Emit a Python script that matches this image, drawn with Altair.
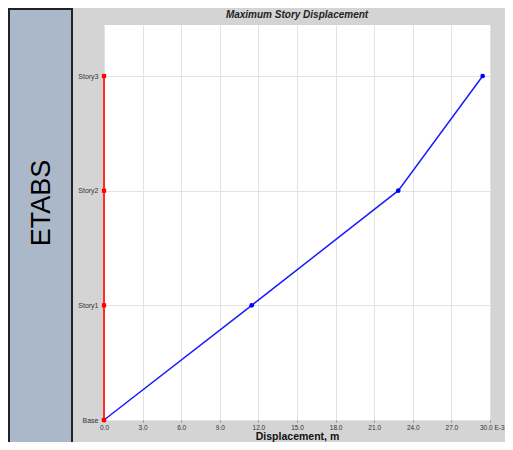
import altair as alt
import pandas as pd

# ---- data ----
stories = ["Base", "Story1", "Story2", "Story3"]
levels = [0, 1, 2, 3]
disp_blue = [0.0, 11.48, 22.87, 29.43]   # displacement, E-3 m
disp_red = [0.0, 0.0, 0.0, 0.0]
x_ticks = [0, 3, 6, 9, 12, 15, 18, 21, 24, 27, 30]
chart_title = "Maximum Story Displacement"
side_label = "ETABS"

df = pd.DataFrame({"story": stories, "level": levels,
                   "blue": disp_blue, "red": disp_red})
side = pd.DataFrame({"t": [side_label]})
head = pd.DataFrame({"t": [chart_title]})

FONT = "Liberation Sans"
y_label_expr = "[" + ",".join("'%s'" % s for s in stories) + "][datum.value]"

W, H = 386, 395
xscale = alt.Scale(domain=[0, 30], nice=False, zero=False)
yscale = alt.Scale(domain=[0, 3.445], nice=False, zero=False)

xaxis = alt.Axis(
    values=x_ticks, tickCount=len(x_ticks),
    labelExpr="datum.value == 30 ? '30.0 E-3' : format(datum.value, '.1f')",
    labelAlign={"condition": {"test": "datum.value == 30", "value": "right"}, "value": "center"},
    labelOffset={"condition": {"test": "datum.value == 30", "value": 14}, "value": 0},
    title="Displacement, m", titleFont=FONT, titleFontSize=10.5, titleFontWeight="bold",
    titleColor="#111", titleY=19.5, titleBaseline="alphabetic",
    grid=True, gridColor="#e3e3e3", domain=False,
    tickSize=2, tickColor="#888", labelFont=FONT, labelFontSize=6.5,
    labelColor="#333", labelPadding=2, labelFlush=False, labelOverlap=False,
)
yaxis = alt.Axis(
    values=levels, tickCount=len(levels), labelExpr=y_label_expr, title="",
    grid=True, gridColor="#e3e3e3", domain=False, ticks=False,
    labelFont=FONT, labelFontSize=7, labelColor="#333", labelPadding=6,
    labelOverlap=False,
)

panel = alt.Chart(side).mark_rect(fill="#abb8c9", stroke="#222", strokeWidth=2, clip=False).encode(
    x=alt.value(-95), x2=alt.value(-32), y=alt.value(-16), y2=alt.value(440)
)
label = alt.Chart(side).mark_text(angle=270, fontSize=27, font=FONT, color="#000",
                                  align="center", baseline="middle").encode(
    x=alt.value(-62), y=alt.value(178), text="t:N"
)
title = alt.Chart(head).mark_text(fontSize=10, font=FONT, fontWeight="bold", fontStyle="italic",
                                  color="#222", align="center", baseline="middle").encode(
    x=alt.value(W / 2), y=alt.value(-10), text="t:N"
)

blue_line = alt.Chart(df).mark_line(color="#1a1aff", strokeWidth=1.5).encode(
    x=alt.X("blue:Q", scale=xscale, axis=xaxis),
    y=alt.Y("level:Q", scale=yscale, axis=yaxis),
    order="level:Q",
)
blue_pts = alt.Chart(df).mark_circle(color="#0000ff", size=22, opacity=1).encode(
    x="blue:Q", y="level:Q"
)
red_line = alt.Chart(df).mark_line(color="#ff2a2a", strokeWidth=2).encode(
    x="red:Q", y="level:Q", order="level:Q"
)
red_pts = alt.Chart(df).mark_square(color="#ff0000", size=18, opacity=1).encode(
    x="red:Q", y="level:Q"
)

chart = alt.layer(panel, label, title, blue_line, blue_pts, red_line, red_pts).properties(
    width=W, height=H,
    autosize=alt.AutoSizeParams(type="none"),
    padding={"left": 96, "top": 17, "right": 15, "bottom": 22},
).configure(background="#d4d4d4").configure_view(fill="white", strokeWidth=0)

chart.save("out.html", embed_options={"renderer": "svg", "actions": False})
